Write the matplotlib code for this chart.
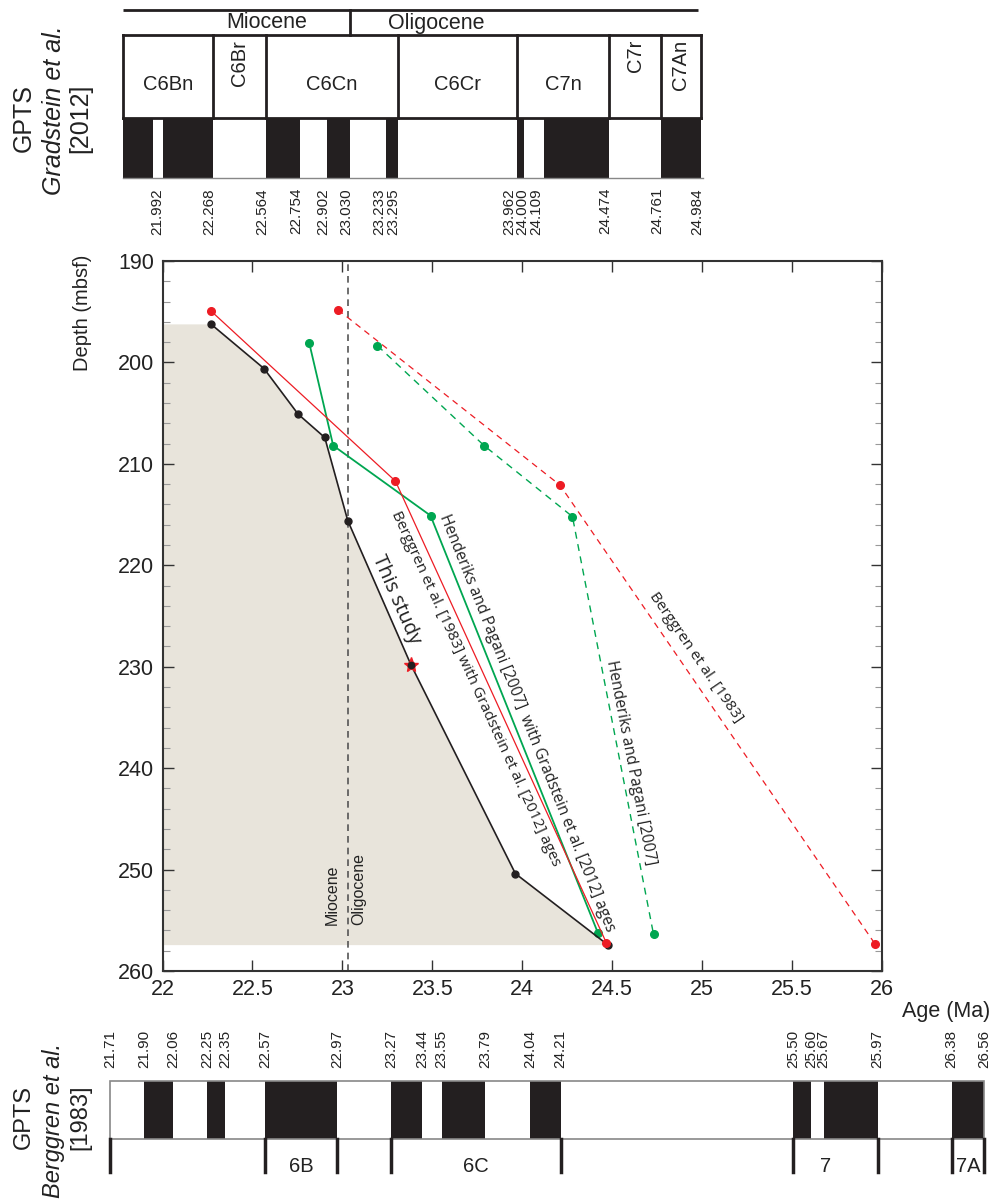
import matplotlib.pyplot as plt
import matplotlib.ticker as mticker
from matplotlib.patches import Rectangle
from matplotlib.transforms import offset_copy
import numpy as np

plt.rcParams['font.family'] = ['Liberation Sans', 'DejaVu Sans']

W, H = 1003, 1201

# ---- age-depth tie points (age in Ma, depth in mbsf) ----
this_age = [22.268, 22.564, 22.754, 22.902, 23.030, 23.381, 23.962, 24.474]
this_depth = [196.2, 200.6, 205.1, 207.4, 215.6, 229.8, 250.4, 257.4]
star_age = 23.381
star_depth = 229.8

b83_g12_age = [22.268, 23.295, 24.467]
b83_g12_depth = [194.9, 211.7, 257.2]
hp07_g12_age = [22.816, 22.949, 23.490, 24.422]
hp07_g12_depth = [198.1, 208.2, 215.1, 256.3]
b83_age = [22.975, 24.210, 25.960]
b83_depth = [194.8, 212.1, 257.3]
hp07_age = [23.195, 23.788, 24.279, 24.730]
hp07_depth = [198.35, 208.2, 215.2, 256.4]

mio_olig = 23.03

# ---- GPTS Gradstein et al. 2012 ----
g12_normal = [(21.767, 21.936), (21.992, 22.268), (22.564, 22.754), (22.902, 23.030),
              (23.233, 23.295), (23.962, 24.000), (24.109, 24.474), (24.761, 24.984)]
g12_ticks = [21.992, 22.268, 22.564, 22.754, 22.902, 23.030, 23.233, 23.295,
             23.962, 24.000, 24.109, 24.474, 24.761, 24.984]
g12_chron_edges = [21.767, 22.268, 22.564, 23.295, 23.962, 24.474, 24.761, 24.984]
g12_chrons = ['C6Bn', 'C6Br', 'C6Cn', 'C6Cr', 'C7n', 'C7r', 'C7An']
g12_epochs = ['Miocene', 'Oligocene']

# ---- GPTS Berggren et al. 1983 ----
b83_normal = [(21.90, 22.06), (22.25, 22.35), (22.57, 22.97), (23.27, 23.44), (23.55, 23.79),
              (24.04, 24.21), (25.50, 25.60), (25.67, 25.97), (26.38, 26.56)]
b83_ticks = [21.71, 21.90, 22.06, 22.25, 22.35, 22.57, 22.97, 23.27, 23.44, 23.55,
             23.79, 24.04, 24.21, 25.50, 25.60, 25.67, 25.97, 26.38, 26.56]
b83_anomaly_edges = [21.71, 22.57, 22.97, 23.27, 24.21, 25.50, 25.97, 26.38, 26.56]
b83_anomalies = [('6B', 22.57, 22.97), ('6C', 23.27, 24.21), ('7', 25.50, 25.86), ('7A', 26.38, 26.56)]

red = '#ED1C24'
green = '#00A651'
black = '#231F20'
txt = '#222222'


def px_box(x0, y0, x1, y1):
    # figure rectangle from pixel corners, y measured downwards
    return [x0 / W, 1 - y1 / H, (x1 - x0) / W, (y1 - y0) / H]


fig = plt.figure(figsize=(W / 100, H / 100), dpi=100)

# ================= main age-depth plot =================
ax = fig.add_axes(px_box(162.5, 261, 882, 971))
ax.set_xlim(22, 26)
ax.set_ylim(260, 190)

ax.fill_betweenx(this_depth, 22, this_age, color='#E8E4DB', lw=0, zorder=0)
ax.axvline(mio_olig, color='#555555', lw=1.2, ls=(0, (4, 3)), zorder=1)

ax.plot(b83_age, b83_depth, color=red, lw=0.9, ls=(0, (5, 4)), marker='o', ms=5.5, zorder=3)
ax.plot(hp07_age, hp07_depth, color=green, lw=1.0, ls=(0, (5, 4)), marker='o', ms=5.5, zorder=3)
ax.plot(hp07_g12_age, hp07_g12_depth, color=green, lw=1.3, marker='o', ms=5.5, zorder=3)
ax.plot(this_age, this_depth, color=black, lw=1.2, marker='o', ms=5, zorder=4)
ax.plot(b83_g12_age, b83_g12_depth, color=red, lw=0.9, marker='o', ms=5.5, zorder=5)
ax.plot(star_age, star_depth, marker='*', color=red, ms=11, zorder=6)
ax.plot(star_age, star_depth, marker='o', color=black, ms=4.5, zorder=7)

for s in ax.spines.values():
    s.set_linewidth(1.5)
    s.set_color('#333333')
ax.xaxis.set_major_locator(mticker.MultipleLocator(0.5))
ax.xaxis.set_major_formatter(mticker.FuncFormatter(lambda v, p: f'{v:g}'))
ax.yaxis.set_major_locator(mticker.MultipleLocator(10))
ax.yaxis.set_minor_locator(mticker.MultipleLocator(2))
ax.tick_params(which='both', direction='in', top=True, right=True)
ax.tick_params(which='major', length=8, width=1.0, color='#333333', labelsize=15.5, pad=6,
               labelcolor=txt)
ax.tick_params(which='minor', length=5, width=0.8, color='#999999')

fig.text(990 / W, 1 - 1012 / H, 'Age (Ma)', ha='right', va='center', fontsize=15.5, color=txt)
fig.text(83 / W, 1 - 313 / H, 'Depth (mbsf)', rotation=90, ha='center', va='center',
         fontsize=14.5, color=txt)


def along(xs, ys, i):
    p0 = ax.transData.transform((xs[i], ys[i]))
    p1 = ax.transData.transform((xs[i + 1], ys[i + 1]))
    return np.degrees(np.arctan2(p1[1] - p0[1], p1[0] - p0[0]))


lab = dict(family=['Open Sans', 'DejaVu Sans'], ha='center', va='center',
           rotation_mode='anchor', color=txt, zorder=8)
ax.text(23.301, 223.4, 'This study', fontsize=14.5, rotation=along(this_age, this_depth, 4), **lab)
ax.text(23.739, 232.2, 'Berggren et al. [1983] with Gradstein et al. [2012] ages', fontsize=11.1,
        rotation=along(b83_g12_age, b83_g12_depth, 1), **lab)
ax.text(24.025, 235.6, 'Henderiks and Pagani [2007]  with Gradstein et al. [2012] ages', fontsize=11.2,
        rotation=along(hp07_g12_age, hp07_g12_depth, 2), **lab)
ax.text(24.603, 239.5, 'Henderiks and Pagani [2007]', fontsize=11.2,
        rotation=along(hp07_age, hp07_depth, 2), **lab)
ax.text(24.964, 229.1, 'Berggren et al. [1983]', fontsize=11.1,
        rotation=along(b83_age, b83_depth, 1), **lab)

ax.text(22.942, 255.5, 'Miocene', rotation=90, ha='center', va='bottom', fontsize=11.5, color=txt)
ax.text(23.092, 255.5, 'Oligocene', rotation=90, ha='center', va='bottom', fontsize=11.5, color=txt)

# ================= top GPTS (Gradstein et al. 2012) =================
axt = fig.add_axes(px_box(123, 0, 701, 240))
x0, x1 = g12_chron_edges[0], g12_chron_edges[-1]
axt.set_xlim(x0, x1)
axt.set_ylim(240, 0)
axt.axis('off')

axt.plot([x0, x1 - 0.015], [10, 10], color=black, lw=2.0, clip_on=False, solid_capstyle='butt')
axt.plot([mio_olig, mio_olig], [10, 35], color=black, lw=2.0)
axt.text(22.565, 23, g12_epochs[0], ha='center', va='center', fontsize=15.5, color=txt)
axt.text(23.51, 23, g12_epochs[1], ha='center', va='center', fontsize=15.5, color=txt)

for a, b in g12_normal:
    axt.add_patch(Rectangle((a, 118), b - a, 60, color=black, lw=0, clip_on=False))
axt.plot([x0, x1 + 0.01], [178, 178], color='#888888', lw=1.0, clip_on=False)
axt.plot([x0, x1], [35, 35], color=black, lw=2.0, clip_on=False, solid_capstyle='projecting')
axt.plot([x0, x1], [118, 118], color=black, lw=2.0, clip_on=False, solid_capstyle='projecting')
for e in g12_chron_edges:
    axt.plot([e, e], [35, 118], color=black, lw=2.0, clip_on=False)

for name, a, b in zip(g12_chrons, g12_chron_edges[:-1], g12_chron_edges[1:]):
    if b - a < 0.3:
        axt.text((a + b) / 2, 40, name, rotation=90, ha='center', va='top', fontsize=14.5, color=txt)
    else:
        axt.text((a + b) / 2, 85, name, ha='center', va='center', fontsize=14.5, color=txt)

nudge_top = {21.992: -6, 23.233: -7, 23.962: -8, 24.000: -2, 24.109: -8}
for t in g12_ticks:
    tr = offset_copy(axt.transData, fig=fig, x=nudge_top.get(t, -4), y=0, units='dots')
    axt.text(t, 188, f'{t:.3f}', rotation=90, ha='center', va='top', fontsize=11,
             color=txt, transform=tr)

fig.text(24 / W, 1 - 118 / H, 'GPTS', rotation=90, ha='center', va='center', fontsize=18, color=txt)
fig.text(54 / W, 1 - 110 / H, 'Gradstein et al.', rotation=90, ha='center', va='center',
         fontsize=18, style='italic', color=txt)
fig.text(80 / W, 1 - 118 / H, '[2012]', rotation=90, ha='center', va='center', fontsize=18, color=txt)

# ================= bottom GPTS (Berggren et al. 1983) =================
axb = fig.add_axes(px_box(110, 1020, 984, 1201))
bx0, bx1 = b83_anomaly_edges[0], b83_anomaly_edges[-1]
axb.set_xlim(bx0, bx1)
axb.set_ylim(1201, 1020)
axb.axis('off')

for a, b in b83_normal:
    axb.add_patch(Rectangle((a, 1081), b - a, 58, color=black, lw=0, clip_on=False))
axb.add_patch(Rectangle((bx0, 1081), bx1 - bx0, 58, fill=False, ec='#888888', lw=1.2, clip_on=False))
for e in b83_anomaly_edges:
    axb.plot([e, e], [1139, 1172], color=black, lw=2.5, clip_on=False)
for name, a, b in b83_anomalies:
    axb.text((a + b) / 2, 1167, name, ha='center', va='center', fontsize=14.5, color=txt)
for t in b83_ticks:
    axb.text(t, 1068, f'{t:.2f}', rotation=90, ha='center', va='bottom', fontsize=11, color=txt)

fig.text(24 / W, 1 - 1117 / H, 'GPTS', rotation=90, ha='center', va='center', fontsize=17, color=txt)
fig.text(54 / W, 1 - 1120 / H, 'Berggren et al.', rotation=90, ha='center', va='center',
         fontsize=17, style='italic', color=txt)
fig.text(80 / W, 1 - 1117 / H, '[1983]', rotation=90, ha='center', va='center', fontsize=17, color=txt)

fig.savefig('out.png', dpi=100)
